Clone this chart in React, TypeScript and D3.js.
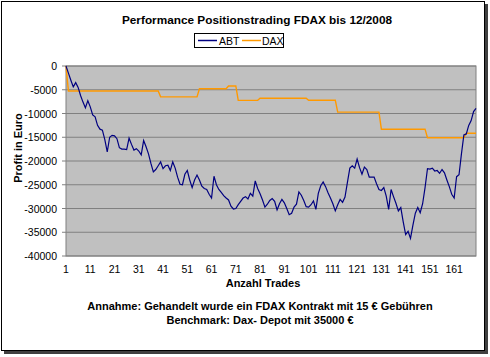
import React from "react";
import * as d3 from "d3";

const abtValues: number[] = [
  0, -1500, -3000, -4400, -3500, -4500, -6200, -7600, -8800, -7300,
  -8600, -10300, -10700, -12500, -13300, -13500, -15500, -18100, -15000, -14600,
  -14700, -15300, -17200, -17500, -17500, -17600, -15200, -16500, -17700, -17400,
  -17900, -18700, -15700, -17000, -18500, -20500, -22300, -21800, -21000, -20200,
  -21600, -21000, -20900, -22000, -20200, -21500, -23400, -24900, -25000, -22800,
  -22000, -24000, -25600, -24000, -22950, -24000, -25300, -25800, -26000, -27000,
  -27800, -23200, -25000, -26000, -26600, -27300, -27800, -28200, -29500, -30100,
  -30000, -29200, -28500, -27800, -27500, -28000, -26800, -27400, -24200, -25800,
  -26900, -28200, -29700, -29100, -28300, -27900, -28500, -30300, -29000, -28100,
  -28800, -30000, -31300, -31000, -29700, -29100, -26500, -27200, -28300, -29600,
  -29700, -29200, -28400, -30200, -26800, -25200, -24400, -25400, -26700, -27800,
  -29000, -30500, -29200, -28100, -28700, -27600, -24500, -21500, -21000, -21500,
  -19600, -21400, -22800, -21300, -21800, -23400, -23400, -23400, -24800, -26000,
  -26200, -25600, -27400, -30200, -26000, -27500, -28900, -30500, -29800, -32800,
  -35500, -34800, -36300, -33500, -31000, -29800, -30900, -29000, -25600, -21600,
  -21700, -21500, -22100, -22000, -22600, -21800, -22500, -24000, -25400, -27000,
  -27800, -23300, -22900, -18500, -14500, -14300, -12500, -11500, -9600, -8900,
];

const daxSegments: [number, number, number][] = [
  // [fromTrade, toTrade, value]
  [1, 1, 0],
  [2, 39, -5260],
  [40, 55, -6500],
  [56, 67, -4800],
  [68, 71, -4200],
  [72, 80, -7230],
  [81, 100, -6800],
  [101, 112, -7200],
  [113, 130, -9700],
  [131, 149, -13300],
  [150, 165, -15090],
  [166, 170, -14170],
];

const daxValues: number[] = daxSegments.flatMap(([a, b, v]) =>
  Array.from({ length: b - a + 1 }, () => v)
);

const trades: number[] = abtValues.map((_, i) => i + 1);
const xTickLabels: number[] = [1, 11, 21, 31, 41, 51, 61, 71, 81, 91, 101, 111, 121, 131, 141, 151, 161];
const yTicks: number[] = [0, -5000, -10000, -15000, -20000, -25000, -30000, -35000, -40000];

const FONT = "'Liberation Sans', Arial, Helvetica, sans-serif";

export default function App() {
  const W = 490;
  const H = 357;
  const left = 66, right = 476, top = 66, bottom = 256;
  const x = d3.scalePoint<number>().domain(trades).range([left, right]);
  const y = d3.scaleLinear().domain([-40000, 0]).range([bottom, top]);

  const line = d3
    .line<number>()
    .x((_, i) => x(trades[i]) as number)
    .y((d) => y(d));

  return (
    <svg
      width={W}
      height={H}
      style={{ position: "absolute", left: 0, top: 0, background: "#fff" }}
      fontFamily={FONT}
    >
      <rect x={0} y={0} width={W} height={H} fill="#fff" />
      {/* outer frame with shadow */}
      <rect x={4} y={4} width={484} height={350} fill="#404040" />
      <rect x={1.5} y={1.5} width={483} height={349} fill="#fff" stroke="#000" strokeWidth={1} />

      {/* title */}
      <text x={257} y={24} textAnchor="middle" fontSize={11.8} fontWeight="bold" fill="#000">
        Performance Positionstrading FDAX bis 12/2008
      </text>

      {/* legend */}
      <rect x={194.5} y={33.5} width={89} height={14} fill="#fff" stroke="#000" strokeWidth={1} />
      <line x1={198} x2={217} y1={40.5} y2={40.5} stroke="#000080" strokeWidth={1.5} />
      <text x={219} y={44.5} fontSize={10.5} fill="#000">ABT</text>
      <line x1={242} x2={261} y1={40.5} y2={40.5} stroke="#FF9900" strokeWidth={1.5} />
      <text x={262} y={44.5} fontSize={10.5} fill="#000">DAX</text>

      {/* plot area */}
      <rect x={left} y={top} width={right - left} height={bottom - top} fill="#C0C0C0" />
      {yTicks.map((t) => (
        <g key={t}>
          <line x1={left - 4} x2={right} y1={y(t)} y2={y(t)} stroke="#808080" strokeWidth={1} />
          <text x={57} y={y(t) + 4} textAnchor="end" fontSize={10.5} fill="#000">
            {t}
          </text>
        </g>
      ))}
      <rect x={left} y={top} width={right - left} height={bottom - top} fill="none" stroke="#808080" strokeWidth={1} />

      {/* series */}
      <path d={line(daxValues) ?? ""} fill="none" stroke="#FF9900" strokeWidth={1.4} />
      <path d={line(abtValues) ?? ""} fill="none" stroke="#000080" strokeWidth={1.2} />

      {/* x labels */}
      {xTickLabels.map((t) => (
        <text key={t} x={x(t) as number} y={273} textAnchor="middle" fontSize={10.5} fill="#000">
          {t}
        </text>
      ))}
      <text x={263} y={287} textAnchor="middle" fontSize={11} fontWeight="bold" fill="#000">
        Anzahl Trades
      </text>
      <text
        transform={`translate(22,148) rotate(-90)`}
        textAnchor="middle"
        fontSize={11}
        fontWeight="bold"
        fill="#000"
      >
        Profit in Euro
      </text>
      <text x={260} y={310} textAnchor="middle" fontSize={11} fontWeight="bold" fill="#000">
        Annahme: Gehandelt wurde ein FDAX Kontrakt mit 15 € Gebühren
      </text>
      <text x={260} y={324} textAnchor="middle" fontSize={11} fontWeight="bold" fill="#000">
        Benchmark: Dax- Depot mit 35000 €
      </text>
    </svg>
  );
}
